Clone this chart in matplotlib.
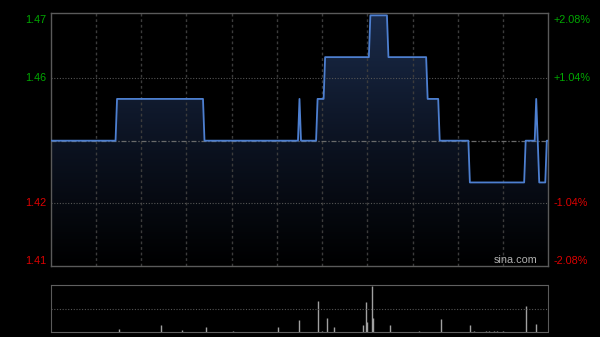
import matplotlib
matplotlib.use("Agg")
import matplotlib.pyplot as plt
import numpy as np

# intraday price path (minutes after 9:30, HK session = 330 trading minutes)
times = [0, 43, 44, 101, 102, 164, 165, 166, 176, 177, 181, 182, 211, 212, 223, 224,
         249, 250, 257, 258, 277, 278, 314, 315, 321, 322, 324, 328, 329, 330]
prices = [1.44, 1.44, 1.45, 1.45, 1.44, 1.44, 1.45, 1.44, 1.44, 1.45, 1.45, 1.46, 1.46, 1.47, 1.47, 1.46,
          1.46, 1.45, 1.45, 1.44, 1.44, 1.43, 1.43, 1.44, 1.44, 1.45, 1.43, 1.43, 1.44, 1.44]
prev_close = 1.44

# volume bars (minute, relative volume)
vol_minutes = [45, 73, 87, 103, 121, 151, 165, 177, 180, 183, 188, 207, 209, 210, 213, 214,
               225, 244, 259, 278, 281, 289, 291, 294, 296, 300, 315, 322]
vol_values = [25, 70, 15, 44, 10, 44, 117, 307, 10, 137, 44, 70, 305, 97, 464, 137,
              65, 10, 127, 67, 10, 12, 10, 12, 10, 12, 260, 80]

left_labels = ["1.47", "1.46", "1.42", "1.41"]
right_labels = ["+2.08%", "+1.04%", "-1.04%", "-2.08%"]
label_levels = [1.47, 1.455, 1.425, 1.41]
label_colors = ["#00a800", "#00a800", "#dd0000", "#dd0000"]

plt.rcParams['font.family'] = ['Liberation Sans', 'DejaVu Sans']

fig = plt.figure(figsize=(6, 3.37), dpi=100, facecolor="black")
ax = fig.add_axes([0.0845, 0.2107, 0.8293, 0.7499], facecolor="black")
axv = fig.add_axes([0.0845, 0.0157, 0.8293, 0.1377], facecolor="black")

ymin, ymax = 1.41, 1.4705
ax.set_xlim(0, 330)
ax.set_ylim(ymin, ymax)

# gradient fill under the line
grad = np.linspace(0, 1, 256).reshape(-1, 1)
cmap = matplotlib.colors.LinearSegmentedColormap.from_list("g", ["#000000", "#0c1322", "#1a2b4a"])
img = ax.imshow(grad, cmap=cmap, aspect="auto", origin="lower",
                extent=[0, 330, ymin, ymax], zorder=1)
poly = ax.fill_between(times, prices, ymin, facecolor="none", edgecolor="none")
clip = poly.get_paths()[0]
img.set_clip_path(clip, transform=ax.transData)

# grid
for m in range(30, 330, 30):
    ax.axvline(m, color="#3c3c3c", lw=1, ls=(0, (2, 2)), zorder=2)
for lv in [1.455, 1.425]:
    ax.axhline(lv, color="#555555", lw=0.8, ls=(0, (1, 1.5)), zorder=2)
ax.axhline(prev_close, color="#6a6a6a", lw=0.9, ls=(0, (4, 1.5, 1, 1.5)), zorder=2)

ax.plot(times, prices, color="#4d7fd0", lw=1.3, zorder=4)

for sp in ax.spines.values():
    sp.set_color("#5a5a5a")
    sp.set_linewidth(1)
ax.set_xticks([])
ax.set_yticks([])

for lab, rlab, lv, c in zip(left_labels, right_labels, label_levels, label_colors):
    va = "center"
    if lv == 1.47:
        va = "top"
    elif lv == 1.41:
        va = "bottom"
    ax.text(-0.008, lv, lab, transform=ax.get_yaxis_transform(), ha="right", va=va,
            color=c, fontsize=7.8)
    ax.text(1.01, lv, rlab, transform=ax.get_yaxis_transform(), ha="left", va=va,
            color=c, fontsize=7.8)

ax.text(0.978, 0.005, "sina.com", transform=ax.transAxes, ha="right", va="bottom",
        color="#b0b0b0", fontsize=7.8, zorder=5)

# volume panel
axv.set_xlim(0, 330)
axv.set_ylim(0, 470)
axv.vlines(vol_minutes, 0, vol_values, color="#a0a0a0", lw=1)
axv.axhline(235, color="#555555", lw=0.8, ls=(0, (1, 1.5)))
axv.set_xticks([])
axv.set_yticks([])
for name in ["left", "right"]:
    axv.spines[name].set_color("#5a5a5a")
for name in ["top", "bottom"]:
    axv.spines[name].set_color("#606060")
    axv.spines[name].set_linestyle((0, (1, 1)))

fig.savefig("out.png", dpi=100, facecolor="black")
